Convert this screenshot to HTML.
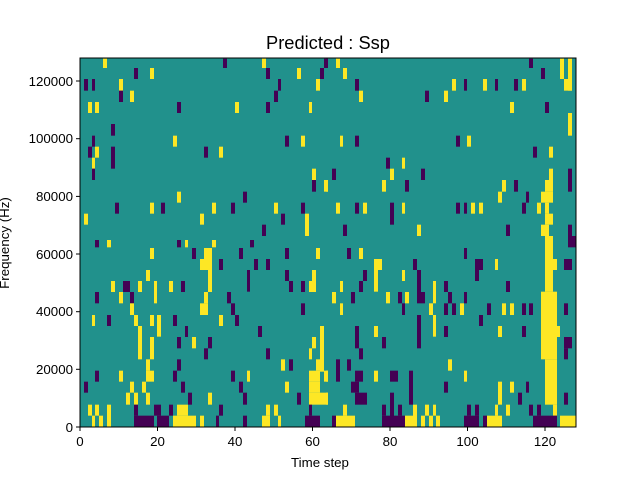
<!DOCTYPE html>
<html><head><meta charset="utf-8"><style>
html,body{margin:0;padding:0;background:#fff;}
svg{display:block;font-family:"Liberation Sans","DejaVu Sans",sans-serif;}
</style></head><body>
<svg id="s" width="640" height="480" xmlns="http://www.w3.org/2000/svg">
<rect x="0" y="0" width="640" height="480" fill="#fff"/>
<rect x="80" y="58" width="496" height="369" fill="#21918c"/>
<g id="cells"></g>
<rect x="80" y="58" width="496" height="369" fill="none" stroke="#000" stroke-width="1"/>
<text x="328" y="49" font-size="18.3" text-anchor="middle">Predicted : Ssp</text>
<g font-size="13.3" text-anchor="middle">
<text x="80" y="446">0</text><text x="157.5" y="446">20</text><text x="235" y="446">40</text>
<text x="312.5" y="446">60</text><text x="390" y="446">80</text><text x="467.5" y="446">100</text><text x="545" y="446">120</text>
</g>
<g stroke="#000" stroke-width="1">
<line x1="80" y1="427" x2="80" y2="431"/><line x1="157.5" y1="427" x2="157.5" y2="431"/><line x1="235" y1="427" x2="235" y2="431"/>
<line x1="312.5" y1="427" x2="312.5" y2="431"/><line x1="390" y1="427" x2="390" y2="431"/><line x1="467.5" y1="427" x2="467.5" y2="431"/><line x1="545" y1="427" x2="545" y2="431"/>
<line x1="76" y1="427" x2="80" y2="427"/><line x1="76" y1="369.3" x2="80" y2="369.3"/><line x1="76" y1="311.7" x2="80" y2="311.7"/>
<line x1="76" y1="254" x2="80" y2="254"/><line x1="76" y1="196.4" x2="80" y2="196.4"/><line x1="76" y1="138.7" x2="80" y2="138.7"/><line x1="76" y1="81" x2="80" y2="81"/>
</g>
<g font-size="13.3" text-anchor="end">
<text x="73" y="432">0</text><text x="73" y="374">20000</text><text x="73" y="316">40000</text><text x="73" y="259">60000</text>
<text x="73" y="201">80000</text><text x="73" y="143">100000</text><text x="73" y="86">120000</text>
</g>
<text x="320" y="467" font-size="13.3" text-anchor="middle">Time step</text>
<text transform="translate(9,243) rotate(-90)" font-size="13.3" text-anchor="middle">Frequency (Hz)</text>
</svg>
<script>
var Y="#fde725",P="#440154";
var O=[[80,240],[326,240],[80,56],[326,56]];
var D=`
0 45 57 0 22 P|0 81 93 0 22 Y|0 291 303 0 22 P|0 315 324 0 22 Y|0 396 408 0 22 Y|0 510 522 0 22 P
0 210 222 24 57 Y|0 336 348 24 57 P|0 372 396 24 57 Y|0 477 489 24 57 P|0 615 627 24 57 P|0 708 720 24 57 Y
0 360 396 57 90 Y|0 417 429 57 90 P|0 522 534 57 90 P|0 558 570 57 90 P
0 198 210 90 123 Y|0 384 396 90 156 Y|0 501 510 90 155 P|0 615 627 90 123 P|0 696 708 90 123 Y
0 93 105 123 156 Y|0 129 150 123 156 P|0 174 186 123 156 Y|0 222 231 123 190 Y|0 267 279 123 156 Y|0 303 315 123 156 P|0 627 639 123 156 P|0 663 675 123 156 P|0 687 708 123 156 Y
0 45 57 156 190 P|0 117 129 156 190 Y|0 150 162 156 190 P|0 372 384 156 190 Y|0 441 453 156 190 P
0 150 162 190 225 Y|0 360 384 190 225 Y|0 453 465 190 225 P|0 663 675 190 225 P
0 36 45 225 258 Y|0 81 93 225 258 P|0 162 174 225 258 Y|0 210 222 225 258 Y|0 231 243 225 290 Y|0 279 291 225 258 P|0 417 429 225 258 Y|0 465 477 225 258 P
0 174 186 258 358 Y|0 315 324 258 291 P|0 534 546 258 291 P|0 720 732 258 395 Y
0 210 222 291 358 Y|0 291 303 291 325 P|0 336 348 291 325 Y|0 384 396 291 325 P|0 696 708 291 325 Y
0 372 384 325 358 P|0 558 570 325 358 P|0 687 696 325 358 Y
0 198 210 358 392 Y|0 291 303 358 392 P|0 603 615 358 392 Y|0 627 639 358 392 P|0 708 732 358 392 Y
0 45 57 392 425 P|0 117 129 392 425 Y|0 198 222 392 425 Y|0 279 291 392 425 P|0 453 465 392 425 P|0 501 510 392 425 Y|0 687 720 392 425 Y|0 732 744 392 425 Y
0 12 24 425 458 P|0 150 162 425 458 Y|0 186 198 425 458 Y|0 303 315 425 458 P|0 477 489 425 458 P|0 615 627 425 458 Y|0 687 720 425 458 Y
0 138 150 458 494 Y|0 162 174 458 494 Y|0 198 210 458 494 Y|0 324 336 458 494 P|0 384 396 458 494 Y|0 489 501 458 494 P|0 651 663 458 494 P|0 687 744 458 494 Y
0 24 36 494 527 Y|0 45 57 494 527 Y|0 81 93 494 560 Y|0 162 174 494 527 P|0 222 243 494 527 P|0 267 279 494 527 P|0 291 324 494 527 Y|0 417 429 494 527 P|0 558 570 494 527 Y|0 582 594 494 527 Y|0 687 696 494 527 P
0 36 45 527 560 Y|0 57 69 527 560 Y|0 162 222 527 560 P|0 231 267 527 560 P|0 279 348 527 560 Y|0 360 372 527 560 Y|0 408 417 527 560 P|0 489 501 527 560 P|0 546 570 527 560 Y|0 594 603 527 560 Y|0 675 720 527 560 P
1 657 681 0 155 Y|1 645 693 155 358 Y|1 657 693 358 494 Y|1 681 693 494 527 Y|1 726 750 0 22 P
1 63 75 24 57 P|1 99 111 24 57 Y|1 414 423 24 57 P
1 144 168 57 90 Y|1 261 273 57 90 P|1 447 471 57 90 P|1 507 516 57 90 Y|1 681 693 57 90 Y|1 714 738 57 90 P
1 111 123 90 123 P|1 144 156 57 155 Y|1 228 237 90 123 Y|1 273 285 90 190 P|1 447 459 90 123 P
1 42 51 123 156 Y|1 99 111 123 156 P|1 321 330 123 190 Y|1 354 366 123 156 P|1 540 552 123 156 P
1 18 30 156 190 Y|1 75 87 156 190 P|1 180 192 156 190 Y|1 216 228 156 190 P|1 237 249 156 190 Y|1 285 297 156 190 P|1 366 378 156 190 P|1 414 423 156 190 P|1 681 693 156 190 Y
1 42 51 190 225 Y|1 228 237 190 225 P|1 309 321 190 225 Y|1 354 366 190 225 P|1 378 390 190 225 P|1 402 414 190 225 Y|1 483 495 190 225 P|1 528 540 190 225 Y|1 552 564 190 225 Y|1 588 600 190 225 P|1 609 621 190 225 P|1 714 726 190 225 P
1 273 285 225 325 P|1 321 330 225 290 Y|1 459 471 225 258 P
1 87 99 258 325 P|1 144 156 258 291 Y|1 354 366 258 291 P|1 516 528 258 291 Y|1 588 600 258 291 P|1 693 702 258 291 Y
1 168 180 291 325 P|1 714 738 291 325 P|1 99 111 325 358 P|1 714 726 325 358 P
1 30 42 358 425 P|1 63 75 358 392 P|1 366 378 358 392 Y
1 0 6 392 425 Y|1 87 111 392 425 P|1 144 156 392 425 Y|1 192 216 392 425 P|1 249 261 392 494 P|1 414 423 392 425 Y
1 75 99 425 458 P|1 354 366 425 458 P|1 516 528 425 494 Y|1 552 564 425 458 Y|1 600 609 425 458 P
1 0 6 458 494 Y|1 87 123 458 494 P|1 192 204 458 560 P|1 576 588 458 494 P|1 714 726 458 494 P
1 51 63 494 527 Y|1 168 180 494 527 P|1 216 228 494 527 P|1 261 273 494 560 Y|1 297 309 494 527 Y|1 321 330 494 527 Y|1 423 435 494 527 P|1 447 459 494 527 P|1 507 516 494 527 Y|1 540 552 494 527 Y|1 609 621 494 527 P|1 633 645 494 527 P
1 18 30 527 560 P|1 30 87 527 560 Y|1 168 237 527 560 P|1 237 273 527 560 Y|1 285 297 527 560 Y|1 309 321 527 560 Y|1 330 342 527 560 Y|1 414 459 527 560 P|1 471 483 527 560 P|1 483 528 527 560 Y|1 621 693 527 560 P|1 702 750 527 560 Y
2 69 81 8 36 Y|2 429 441 8 36 P|2 546 558 8 36 Y|2 732 744 8 36 P
2 162 174 36 69 P|2 210 222 36 69 Y|2 558 570 36 69 P|2 651 663 36 69 Y|2 720 732 36 69 P
2 12 24 69 104 P|2 36 45 69 104 P|2 117 129 69 104 Y|2 594 603 69 104 P|2 708 720 69 104 Y
2 117 129 104 138 P|2 150 162 104 138 Y|2 582 594 104 138 P
2 24 36 138 171 Y|2 45 57 138 171 Y|2 291 303 138 171 P|2 465 477 138 171 Y|2 558 570 138 171 P|2 687 696 138 171 Y
2 93 105 204 239 P
2 36 45 239 272 P|2 279 291 239 272 Y|2 615 627 239 272 P|2 663 675 239 272 Y
2 24 36 272 305 P|2 45 57 272 305 Y|2 93 105 272 338 P|2 372 384 272 305 P|2 417 429 272 305 Y
2 36 45 305 338 Y|2 36 45 338 372 P|2 696 708 338 372 Y|2 696 708 372 407 P|2 732 744 372 407 Y
2 291 303 407 440 Y|2 489 501 407 440 P
2 105 117 440 473 P|2 210 222 440 473 Y|2 243 255 440 473 P|2 396 408 440 473 Y|2 453 465 440 473 P|2 582 594 440 473 Y|2 663 675 440 473 P
2 12 24 473 506 Y|2 360 372 473 506 Y|2 603 615 473 506 P|2 675 687 473 540 Y|2 546 558 506 540 P
3 0 6 8 36 P|3 30 42 8 36 Y|3 609 621 8 36 P|3 702 714 8 69 Y|3 726 738 8 104 Y
3 51 63 36 69 Y|3 645 657 36 69 P
3 87 99 69 104 P|3 378 390 69 104 Y|3 414 423 69 104 P|3 471 483 69 104 Y|3 507 516 69 104 P|3 564 576 69 104 P|3 588 600 69 104 Y|3 714 738 69 104 Y
3 99 111 104 138 Y|3 297 309 104 138 P|3 354 366 104 138 Y
3 552 564 138 171 Y|3 657 669 138 171 P|3 726 738 171 239 Y
3 42 51 239 272 Y|3 87 99 239 272 P|3 390 402 239 272 P|3 423 435 239 272 Y
3 621 633 272 305 P|3 669 681 272 305 Y|3 180 192 305 338 P|3 228 237 305 338 Y
3 18 30 338 372 P|3 192 204 338 372 Y|3 285 297 338 372 P|3 669 681 338 372 Y|3 726 738 338 407 P
3 0 6 372 407 Y|3 168 180 372 407 Y|3 237 249 372 407 P|3 528 540 372 407 Y|3 564 576 372 407 P|3 657 681 372 407 Y
3 516 528 407 440 Y|3 600 609 407 440 P|3 645 681 407 440 Y
3 30 42 440 473 Y|3 87 99 440 473 P|3 111 123 440 473 Y|3 192 204 440 506 P|3 228 237 440 473 Y|3 390 402 440 473 P|3 414 423 440 473 P|3 435 447 440 473 Y|3 459 471 440 473 Y|3 588 600 440 473 P|3 633 645 440 473 Y|3 657 669 440 473 Y
3 657 681 473 506 Y|3 51 63 506 540 P|3 273 285 506 540 Y|3 540 552 506 540 P|3 645 669 506 540 Y|3 726 738 506 540 P|3 657 681 540 558 Y|3 726 750 540 558 P`;
var g=document.getElementById("cells"),ns="http://www.w3.org/2000/svg";
D.split(/[|\n]/).forEach(function(s){s=s.trim();if(!s)return;var a=s.split(/\s+/);var o=O[+a[0]];
var x1=o[0]+a[1]/3,x2=o[0]+a[2]/3,y1=o[1]+a[3]/3,y2=o[1]+a[4]/3;
x1=Math.max(80,x1);x2=Math.min(576,x2);y1=Math.max(58,y1);y2=Math.min(427,y2);
var r=document.createElementNS(ns,"rect");r.setAttribute("x",x1);r.setAttribute("y",y1);r.setAttribute("width",Math.max(0,x2-x1));r.setAttribute("height",Math.max(0,y2-y1));
r.setAttribute("fill",a[5]=="Y"?Y:P);g.appendChild(r);});
</script>
</body></html>
